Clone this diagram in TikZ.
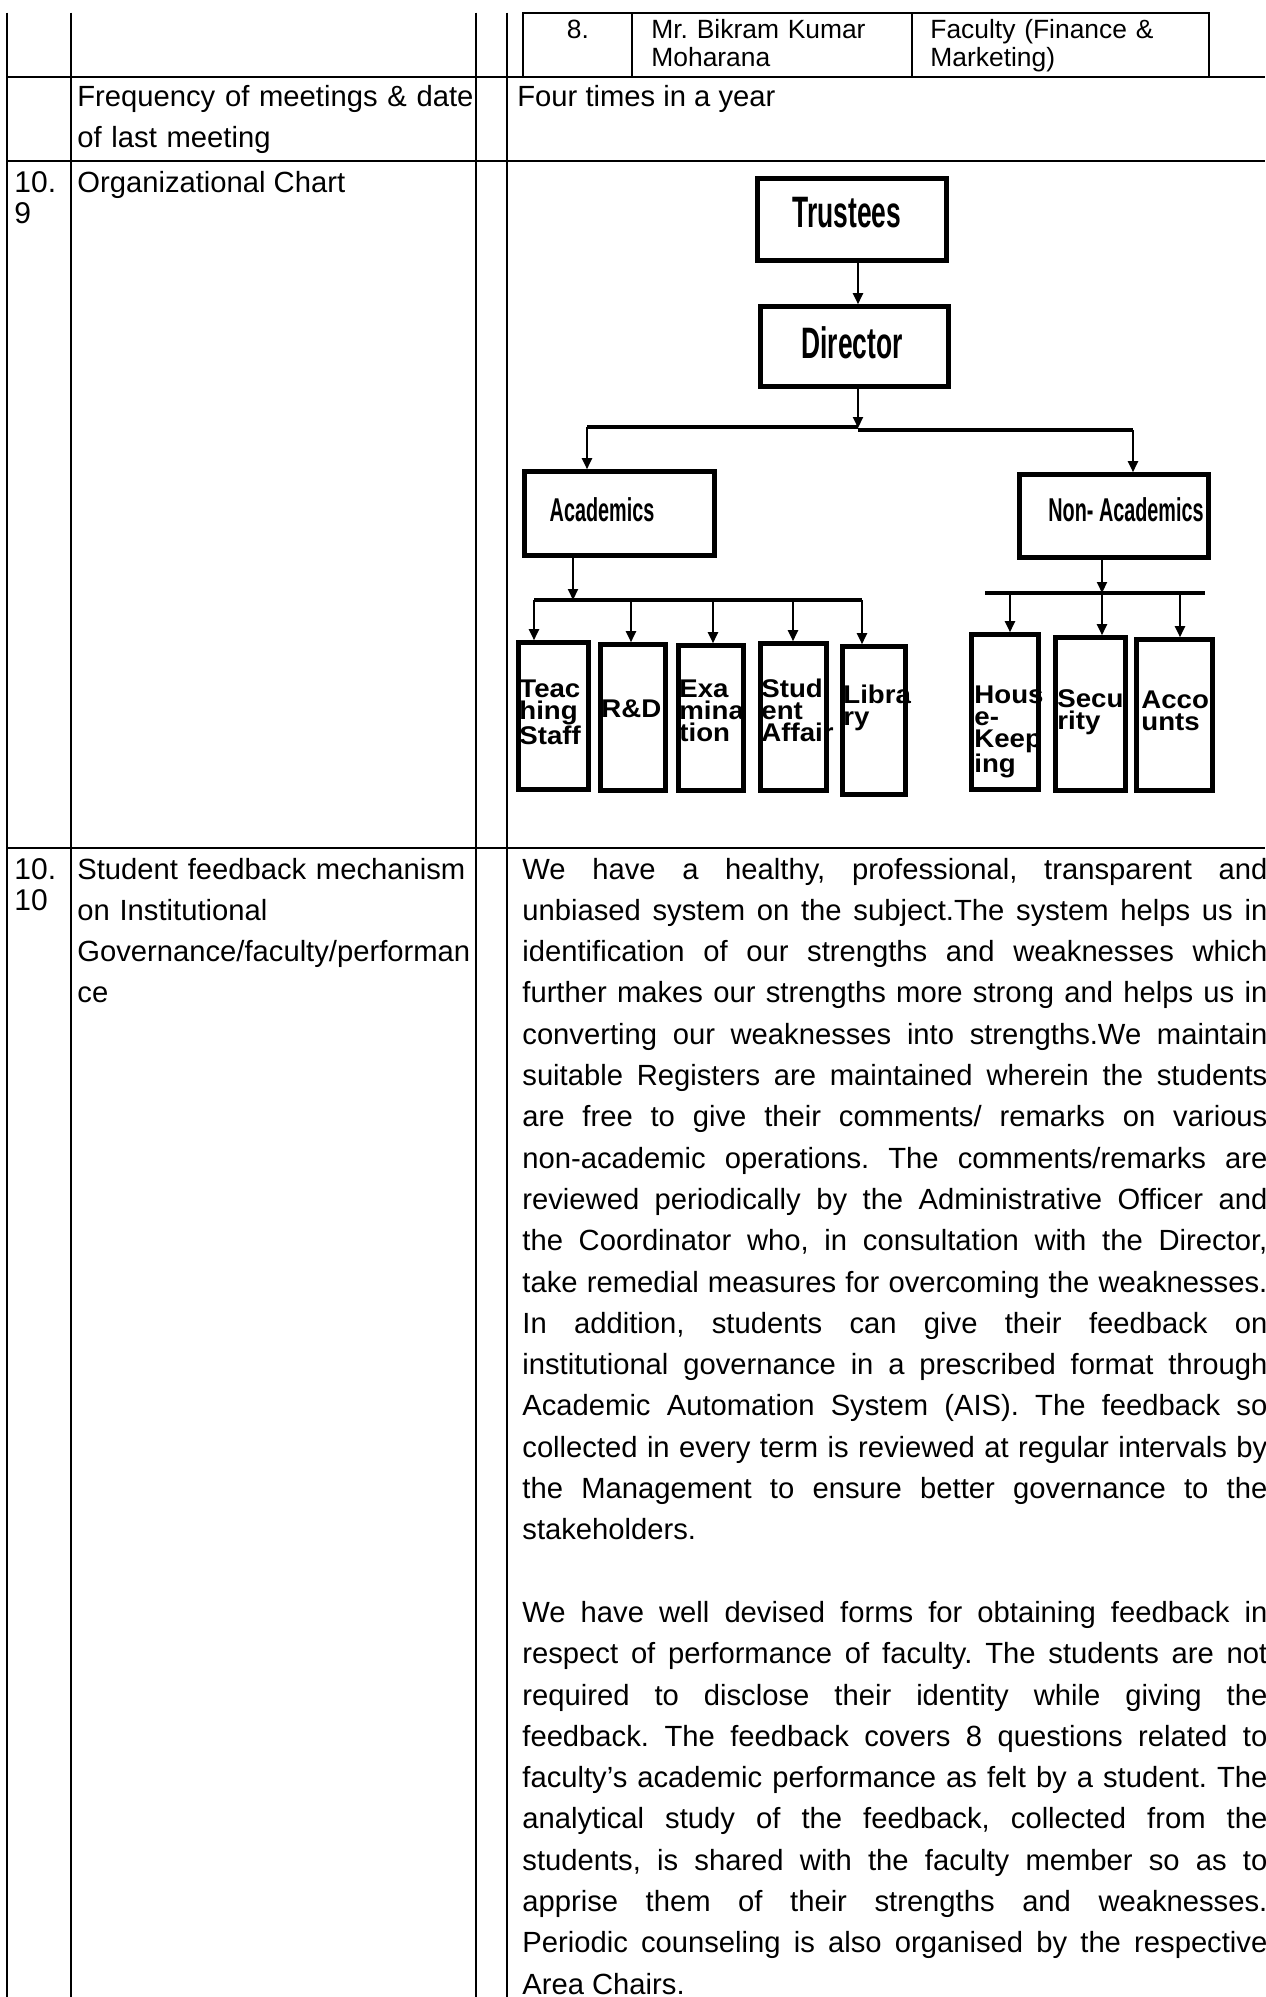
\documentclass[tikz,border=0pt]{standalone}
\usepackage{fontspec}
\setmainfont{Liberation Sans}
\newfontfamily\headfont[FakeStretch=0.6]{Liberation Sans}
\newfontfamily\unitfont[FakeStretch=1.08]{Liberation Sans}
\usetikzlibrary{arrows.meta}
\tolerance=10000
\hyphenpenalty=10000
\exhyphenpenalty=10000
\frenchspacing
\tikzstyle{gridline} = [draw, line width=0.85pt]
\tikzstyle{block} = [rectangle, draw, line width=2.3pt, inner sep=0pt]
\tikzstyle{arrow} = [draw, -{Triangle[length=5.5pt, width=5pt]}, line width=1pt]
\tikzstyle{bar} = [draw, line width=2.3pt]
\tikzstyle{body} = [inner sep=0pt, font=\fontsize{14.6}{20.65}\selectfont]
\tikzstyle{numcell} = [inner sep=0pt, text width=25pt, align=left, font=\fontsize{15}{15.5}\selectfont]
\tikzstyle{small} = [inner sep=0pt, font=\fontsize{13.2}{13.8}\selectfont]
\tikzstyle{head} = [inner sep=0pt, font=\headfont\bfseries\fontsize{22}{24}\selectfont]
\tikzstyle{subhead} = [inner sep=0pt, font=\headfont\bfseries\fontsize{16.5}{18}\selectfont]
\tikzstyle{unit} = [inner sep=0pt, text width=40pt, align=left, font=\unitfont\bfseries\fontsize{12.8}{11}\selectfont]

\begin{document}
\begin{tikzpicture}[x=0.5pt, y=-0.5pt]
\useasboundingbox (0,0) rectangle (1265,1997);
\clip (0,0) rectangle (1265,1997);

%% table rules
\foreach \x in {7, 70.7, 475.7, 506.7}
  \draw[gridline] (\x, 12.7) -- (\x, 1997);
\foreach \y in {76.7, 161, 848}
  \draw[gridline] (7, \y) -- (1265, \y);
\draw[gridline] (522.7, 76.7) -- (522.7, 12.7) -- (1209, 12.7) -- (1209, 76.7);
\draw[gridline] (632, 12.7) -- (632, 76.7);
\draw[gridline] (912, 12.7) -- (912, 76.7);

%% members row
\node[small, anchor=base] at (578, 39) (srno) {8.};
\node[small, anchor=base west, text width=125pt, align=left] at (651, 39) (member) {Mr. Bikram Kumar\\Moharana};
\node[small, anchor=base west, text width=135pt, align=left] at (930, 39) (role) {Faculty (Finance \&\\Marketing)};

%% meetings row
\node[body, anchor=base west, text width=200pt, align=left] at (77, 106) (freq) {Frequency of meetings \& date\\of last meeting};
\node[body, anchor=base west] at (517, 106) (fourtimes) {Four times in a year};

%% chart row
\node[numcell, anchor=base west] at (14, 192) (numchart) {10.\\9};
\node[body, anchor=base west] at (77, 192) (orgchart) {Organizational Chart};

\node[block, minimum width=94.5pt, minimum height=41pt] at (852, 219.5) (trustees) {};
\node[head] at (847, 213) (trusteestext) {Trustees};

\node[block, minimum width=94pt, minimum height=40pt] at (854.5, 346.5) (director) {};
\node[head] at (852, 343) (directortext) {Director};

\node[block, minimum width=95pt, minimum height=42pt] at (619.5, 513.5) (academics) {};
\node[subhead] at (602, 510) (academicstext) {Academics};

\node[block, minimum width=94.5pt, minimum height=41.5pt] at (1114, 516) (nonacad) {};
\node[subhead] at (1126, 510) (nonacadtext) {Non- Academics};

\foreach \name/\cx/\cy/\w/\h in {teach/553.5/716/35/73.5, rnd/633/717.5/32.5/73,
    exam/711/718/32.5/72.5, stud/793.5/717/33/73.5, lib/874/720.5/31.5/74,
    house/1005/712/33.5/77.5, secu/1090.5/714/35/76.5, acco/1174.5/715/38/75.5}
  \node[block, minimum width=\w pt, minimum height=\h pt] at (\cx, \cy) (\name) {};

\node[unit, anchor=base west] at (519, 697) (teachtext) {Teac\\hing\\Staff};
\node[unit, anchor=base west] at (601, 717) (rndtext) {R\&D};
\node[unit, anchor=base west] at (679, 697) (examtext) {Exa\\mina\\tion};
\node[unit, anchor=base west] at (761, 697) (studtext) {Stud\\ent\\Affair};
\node[unit, anchor=base west] at (843, 703) (libtext) {Libra\\ry};
\node[unit, anchor=base west] at (974, 703) (housetext) {Hous\\e-\\Keep\\ing};
\node[unit, anchor=base west] at (1057, 707) (secutext) {Secu\\rity};
\node[unit, anchor=base west] at (1141, 708) (accotext) {Acco\\unts};

% top of the chart
\coordinate (dirsplit) at (858, 428);
\path[arrow] (trustees.south -| dirsplit) -- (director.north -| dirsplit);
\path[arrow] (director.south -| dirsplit) -- (dirsplit);
\coordinate (acdrop) at (587, 427);
\coordinate (nadrop) at (1133, 430);
\path[bar] (acdrop) -- (858, 427);
\path[bar] (858, 430) -- (nadrop);
\path[arrow] (acdrop) -- (acdrop |- academics.north);
\path[arrow] (nadrop) -- (nadrop |- nonacad.north);

% academics branch
\coordinate (acsplit) at (573, 600);
\path[arrow] (academics.south -| acsplit) -- (acsplit);
\path[bar] (534, 600) -- (862, 600);
\foreach \x/\name in {534/teach, 631/rnd, 713/exam, 793/stud, 862/lib} {
  \coordinate (\name top) at (\x, 600);
  \path[arrow] (\name top) -- (\name top |- \name.north);
}

% non-academics branch
\coordinate (nasplit) at (1102, 593);
\path[arrow] (nonacad.south -| nasplit) -- (nasplit);
\path[bar] (985, 593) -- (1205, 593);
\foreach \x/\name in {1010/house, 1102/secu, 1180/acco} {
  \coordinate (\name top) at (\x, 593);
  \path[arrow] (\name top) -- (\name top |- \name.north);
}

%% feedback row
\node[numcell, anchor=base west] at (14, 879) (numfeed) {10.\\10};
\node[body, anchor=base west, text width=200pt, align=left] at (77, 879) (feedlabel) {Student feedback mechanism\\on Institutional\\Governance/faculty/performan\\ce};

\node[body, anchor=base west, text width=372.5pt, align=justify] at (522, 879) (feedtext) {We have a healthy, professional, transparent and\linebreak
unbiased system on the subject.The system helps us in\linebreak
identification of our strengths and weaknesses which\linebreak
further makes our strengths more strong and helps us in\linebreak
converting our weaknesses into strengths.We maintain\linebreak
suitable Registers are maintained wherein the students\linebreak
are free to give their comments/ remarks on various\linebreak
non-academic operations. The comments/remarks are\linebreak
reviewed periodically by the Administrative Officer and\linebreak
the Coordinator who, in consultation with the Director,\linebreak
take remedial measures for overcoming the weaknesses.\linebreak
In addition, students can give their feedback on\linebreak
institutional governance in a prescribed format through\linebreak
Academic Automation System (AIS). The feedback so\linebreak
collected in every term is reviewed at regular intervals by\linebreak
the Management to ensure better governance to the\linebreak
stakeholders.\\[20.65pt]
We have well devised forms for obtaining feedback in\linebreak
respect of performance of faculty. The students are not\linebreak
required to disclose their identity while giving the\linebreak
feedback. The feedback covers 8 questions related to\linebreak
faculty’s academic performance as felt by a student. The\linebreak
analytical study of the feedback, collected from the\linebreak
students, is shared with the faculty member so as to\linebreak
apprise them of their strengths and weaknesses.\linebreak
Periodic counseling is also organised by the respective\linebreak
Area Chairs.};
\end{tikzpicture}
\end{document}
